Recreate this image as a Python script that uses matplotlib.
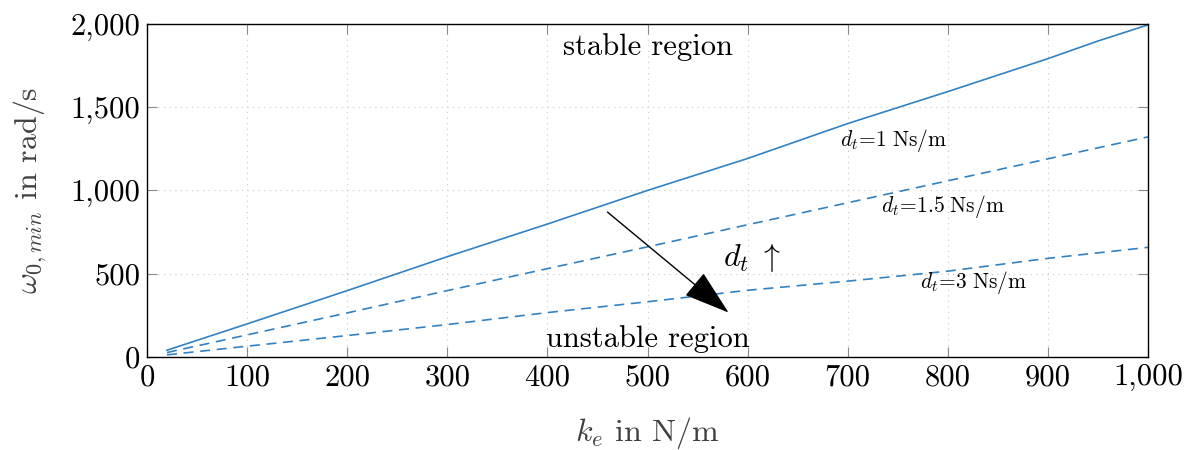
import matplotlib
matplotlib.use("Agg")
import matplotlib.pyplot as plt
from matplotlib.ticker import FuncFormatter

plt.rcParams.update({
    "font.family": "serif",
    "font.serif": ["cmr10", "DejaVu Serif"],
    "mathtext.fontset": "cm",
    "axes.formatter.use_mathtext": True,
    "axes.unicode_minus": False,
})

# stiffness k_e in N/m
ke = [20, 100, 200, 300, 400, 500, 600, 700, 800, 900, 950, 1000]
# minimum natural frequency for each damping value
w_dt1 = [40, 198, 398, 602, 798, 1000, 1192, 1402, 1594, 1792, 1898, 1995]
w_dt15 = [26, 132, 264, 398, 530, 661, 794, 926, 1058, 1190, 1256, 1322]
w_dt3 = [12, 64, 128, 194, 266, 331, 400, 455, 515, 592, 625, 658]

line_color = "#3182c4"

fig = plt.figure(figsize=(11.95, 4.5), dpi=100)
ax = fig.add_axes([0.123, 0.207, 0.8377, 0.7396])

ax.plot(ke, w_dt1, color=line_color, lw=1.2)
ax.plot(ke, w_dt15, color=line_color, lw=1.2, dashes=(6, 4))
ax.plot(ke, w_dt3, color=line_color, lw=1.2, dashes=(6, 4))

ax.set_xlim(0, 1000)
ax.set_ylim(0, 2000)
ax.set_xticks(range(0, 1001, 100))
ax.set_yticks(range(0, 2001, 500))
fmt = FuncFormatter(lambda v, _: f"{v:,.0f}")
ax.xaxis.set_major_formatter(fmt)
ax.yaxis.set_major_formatter(fmt)

ax.tick_params(direction="in", length=7, width=0.8, color="#8a8a8a",
               top=True, right=True, labelsize=22, pad=5)
ax.grid(True, linestyle=(0, (1, 4)), color="#c8c8c8", lw=0.8)
for sp in ax.spines.values():
    sp.set_linewidth(1.0)

ax.set_xlabel(r"$k_e$ in N/m", fontsize=23, color="#404040", va="center")
ax.set_ylabel(r"$\omega_{0,min}$ in rad/s", fontsize=23, color="#404040", va="center")
ax.xaxis.set_label_coords(0.5, -0.228)
ax.yaxis.set_label_coords(-0.117, 0.5)

ax.text(500, 1860, "stable region", fontsize=22, ha="center", va="center")
ax.text(500, 110, "unstable region", fontsize=22, ha="center", va="center")

ax.text(746, 1300, r"$d_t\!=\!1\;\mathrm{Ns/m}$", fontsize=15.5, ha="center", va="center")
ax.text(795, 905, r"$d_t\!=\!1.5\;\mathrm{Ns/m}$", fontsize=15.5, ha="center", va="center")
ax.text(826, 445, r"$d_t\!=\!3\;\mathrm{Ns/m}$", fontsize=15.5, ha="center", va="center")

ax.text(575, 595, r"$d_t\;\uparrow$", fontsize=23, ha="left", va="center")
ax.annotate("", xy=(581, 266), xytext=(460, 870),
            arrowprops=dict(arrowstyle="-|>,head_length=1.48,head_width=0.47",
                            mutation_scale=20, color="black", lw=1.0,
                            shrinkA=0, shrinkB=0))

fig.savefig("out.png", dpi=100)
